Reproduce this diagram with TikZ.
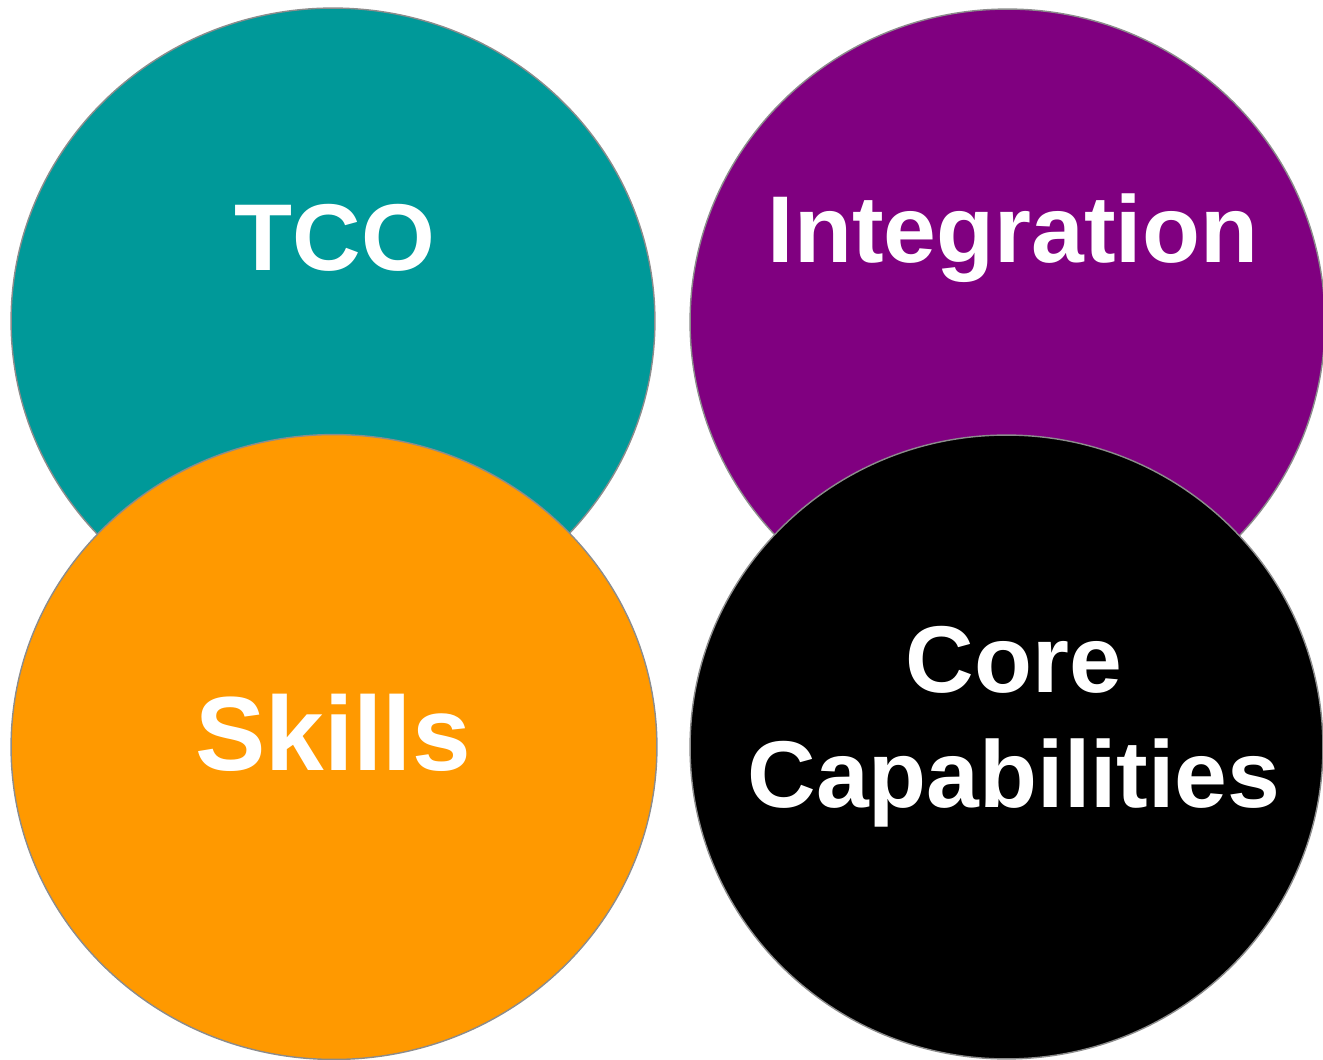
\documentclass[tikz,border=0pt]{standalone}
\usepackage{fontspec}
\setmainfont{Liberation Sans}
\usepackage{tikz}
\definecolor{tcoteal}{HTML}{009999}
\definecolor{intpurple}{HTML}{800080}
\definecolor{skillorange}{HTML}{FF9900}
\definecolor{rimgray}{HTML}{8C8C8C}
\tikzset{
	blob/.style={draw=rimgray, line width=0.8pt},
	word/.style={anchor=base, text=white, align=center, inner sep=0pt, font=\bfseries\fontsize{54}{65.5}\selectfont}
}

\begin{document}
\begin{tikzpicture}[x=0.02cm, y=-0.02cm]
			%%%%% START %%%%%
			
			\useasboundingbox (0, 0) rectangle (1323, 1060);
			
			\draw[blob, fill=tcoteal] (333, 321) ellipse [x radius=6.44cm, y radius=6.26cm];
			\draw[blob, fill=intpurple] (1007.5, 322) ellipse [x radius=6.35cm, y radius=6.26cm];
			
			\draw[blob, fill=skillorange] (334, 747) ellipse [x radius=6.46cm, y radius=6.25cm];
			\draw[blob, fill=black] (1006.5, 747) ellipse [x radius=6.33cm, y radius=6.24cm];
			
			\node[word] (tco) at (335, 271) {TCO};
			\node[word] (integration) at (1013, 263) {Integration};
			\node[word, font=\bfseries\fontsize{60}{72}\selectfont] (skills) at (333, 771) {Skills};
			\node[word] (core) at (1014, 808) {Core\\Capabilities};
			
			%%%%% END %%%%%
\end{tikzpicture}
\end{document}
